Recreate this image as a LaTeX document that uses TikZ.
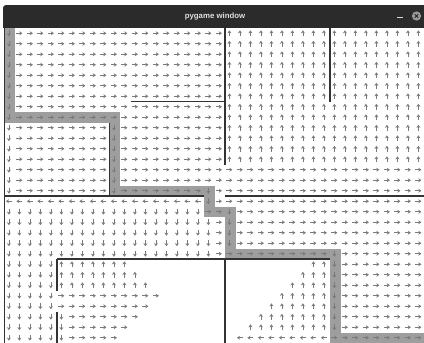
\documentclass[tikz,border=0pt]{standalone}
\usepackage{fontspec}
\setmainfont{Liberation Sans}
\usetikzlibrary{arrows.meta}

\tikzset{
    flow/.style={-{Stealth[length=3pt,width=4pt]}, draw=black!52, line width=0.8pt},
    wall/.style={draw=black!80, line width=1.5pt},
    pathcell/.style={draw=black!38, line width=10.5pt, line cap=rect, line join=miter},
}

% 一格箭头: 列, 行, 角度
\newcommand{\flowcell}[3]{\draw[flow] ({#1+0.42},{#2+0.5}) ++({#3+180}:0.28) -- ++(#3:0.56);}
% 一块区域: 列1, 列2, 行1, 行2, 角度
\newcommand{\flowblock}[5]{%
    \edef\cfrom{#1}\edef\cto{#2}\edef\rfrom{#3}\edef\rto{#4}%
    \foreach \col in {\cfrom,...,\cto}{\foreach \row in {\rfrom,...,\rto}{\flowcell{\col}{\row}{#5}}}}

\begin{document}
\begin{tikzpicture}[x=1pt, y=-1pt]
    \useasboundingbox (0,0) rectangle (424,343);
    \fill[white] (0,0) rectangle (424,343);
    % 标题栏
    \fill[black!83, rounded corners=3pt] (3,5) rectangle (430,27);
    \fill[black!83] (3,20) rectangle (424,27.5);
    \node[text=black!12, font=\bfseries\fontsize{7.8}{9}\selectfont] (title) at (215,16) {pygame window};
    \draw[black!15, line width=1pt] (397,17) -- (403,17);
    \fill[black!40] (416.5,16) circle (4.6);
    \draw[black!85, line width=0.9pt] (414.8,14.3) -- (418.2,17.7) (414.8,17.7) -- (418.2,14.3);

    \begin{scope}[shift={(4.5,28)}, x=10.5pt, y=-10.5pt]
        % 路径
        \draw[pathcell] (0.5,0.5) -- (0.5,8.5) -- (10.5,8.5) -- (10.5,15.5) -- (19.5,15.5)
            -- (19.5,17.5) -- (21.5,17.5) -- (21.5,21.5) -- (31.5,21.5) -- (31.5,29.5) -- (39.5,29.5);

        % 上半部分
        \flowblock{0}{0}{0}{15}{90}
        \flowblock{1}{9}{0}{15}{0}
        \flowblock{10}{10}{0}{8}{0}
        \flowblock{10}{10}{9}{15}{90}
        \flowblock{11}{20}{0}{14}{0}
        \flowblock{11}{18}{15}{15}{0}
        \flowcell{19}{15}{90}
        \flowcell{20}{15}{0}
        \flowblock{21}{39}{0}{12}{-90}
        \flowblock{21}{39}{13}{15}{0}

        % 中间
        \flowblock{0}{18}{16}{16}{180}
        \flowcell{19}{16}{90}
        \flowblock{20}{39}{16}{16}{0}
        \flowblock{0}{18}{17}{21}{90}
        \flowblock{19}{20}{17}{17}{0}
        \flowblock{19}{19}{18}{21}{90}
        \flowblock{20}{20}{18}{21}{0}
        \flowblock{21}{21}{17}{20}{90}
        \flowblock{22}{39}{17}{20}{0}
        \flowblock{21}{30}{21}{21}{0}
        \flowblock{31}{31}{21}{28}{90}
        \flowblock{32}{39}{21}{28}{0}
        \flowblock{31}{39}{29}{29}{0}

        % 下半部分
        \flowblock{0}{4}{22}{29}{90}
        \flowblock{5}{11}{22}{22}{-90}
        \flowblock{5}{12}{23}{23}{-90}
        \flowblock{5}{13}{24}{24}{-90}
        \flowblock{5}{14}{25}{25}{0}
        \flowblock{5}{13}{26}{26}{0}
        \flowblock{5}{5}{27}{29}{90}
        \flowblock{6}{12}{27}{27}{0}
        \flowblock{6}{11}{28}{28}{0}
        \flowblock{6}{10}{29}{29}{0}
        % 右下三角
        \foreach \k in {22,...,28}{\pgfmathtruncatemacro\kfirst{51-\k}\flowblock{\kfirst}{30}{\k}{\k}{-90}}
        \flowblock{22}{30}{29}{29}{180}

        % 墙
        \draw[wall] (0,0) -- (0,30);
        \draw[wall] (21,0) -- (21,13);
        \draw[wall] (31,0) -- (31,7);
        \draw[wall] (12,7) -- (21,7);
        \draw[wall] (10,9) -- (10,16);
        \draw[wall] (0,16) -- (19,16);
        \draw[wall] (21,16) -- (40,16);
        \draw[wall] (5,22) -- (31,22);
        \draw[wall] (5,22) -- (5,25);
        \draw[wall] (5,27) -- (5,30);
        \draw[wall] (21,22) -- (21,30);
    \end{scope}
\end{tikzpicture}
\end{document}
